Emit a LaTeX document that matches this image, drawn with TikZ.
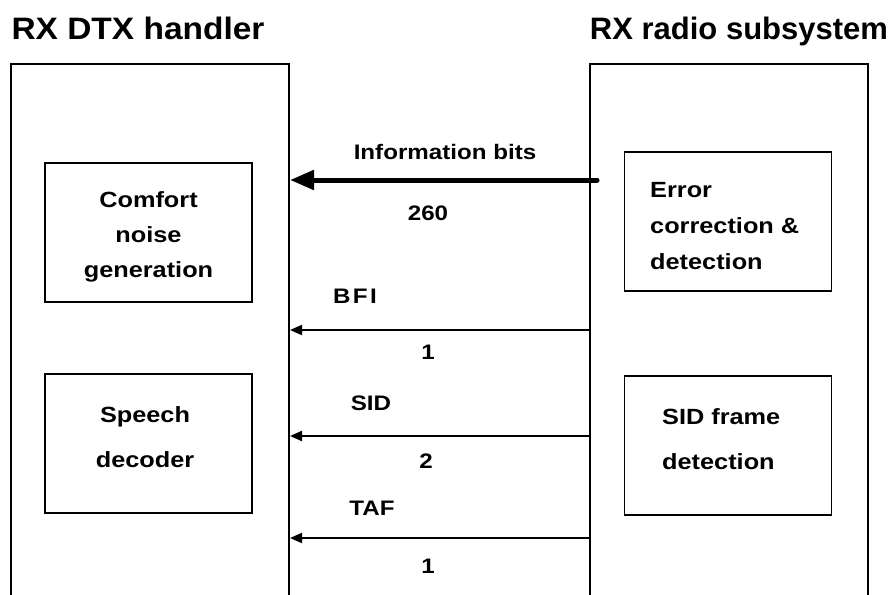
\documentclass[tikz,border=0pt]{standalone}
\usepackage{fontspec}
\setmainfont{Liberation Sans}
\newfontfamily\titlefont{Liberation Sans}[FakeStretch=1.0]
\newfontfamily\lblfont{Liberation Sans}[FakeStretch=1.15]
\usetikzlibrary{arrows.meta}
\begin{document}
\begin{tikzpicture}[x=1pt,y=-1pt,
  title/.style={font=\titlefont\bfseries\fontsize{31}{36}\selectfont, inner sep=0pt, anchor=base},
  boxtext/.style={font=\lblfont\bfseries\fontsize{22}{35}\selectfont, inner sep=0pt},
  sig/.style={font=\lblfont\bfseries\fontsize{21}{25}\selectfont, inner sep=0pt},
  bigbox/.style={draw, line width=2pt, minimum width=278pt, minimum height=600pt, inner sep=0pt},
  funcbox/.style={draw, line width=1.8pt, minimum width=207pt, minimum height=139pt, inner sep=0pt},
  thickarrow/.style={line width=5pt, line cap=round, -{Triangle[length=24pt,width=19pt]}},
  thinarrow/.style={line width=2pt, -{Triangle[length=12pt,width=10pt]}}
]
\clip (0,0) rectangle (893,594);
\fill[white] (0,0) rectangle (893,594);

% titles
\node[title] (tl) at (138,40) {\addfontfeature{FakeStretch=1.08}RX DTX handler};
\node[title] (tr) at (739,40) {RX radio subsystem};

% big boxes (open at bottom)
\node[bigbox, anchor=north west] (dtx) at (10,63) {};
\node[bigbox, anchor=north west] (radio) at (589,63) {};

% inner boxes
\node[funcbox] (cng) at (148.5,232.5) {};
\node[funcbox] (spd) at (148.5,443.5) {};
\node[funcbox] (ecd) at (728,221.5) {};
\node[funcbox] (sfd) at (728,445.5) {};

\node[boxtext, align=center] (cngt) at (148.5,237) {Comfort\\noise\\generation};
\node[boxtext, align=center, font=\lblfont\bfseries\fontsize{22}{45}\selectfont] (spdt) at (145,437.5) {Speech\\decoder};
\node[boxtext, align=left, anchor=west, font=\lblfont\bfseries\fontsize{22}{36}\selectfont] (ecdt) at (650,226) {Error\\correction \&\\detection};
\node[boxtext, align=left, anchor=west, font=\lblfont\bfseries\fontsize{22}{45}\selectfont] (sfdt) at (662,439.5) {SID frame\\detection};

% connectors
\coordinate (infs) at ([xshift=8pt]radio.west |- 0,180);
\draw[thickarrow] (infs) -- (dtx.east |- infs);
\draw[thinarrow] (radio.west |- 0,330) -- (dtx.east |- 0,330);
\draw[thinarrow] (radio.west |- 0,436) -- (dtx.east |- 0,436);
\draw[thinarrow] (radio.west |- 0,538) -- (dtx.east |- 0,538);

% labels
\node[sig] (l1) at (445,152) {Information bits};
\node[sig] (n1) at (428,213) {260};
\node[sig] (l2) at (355,296) {\addfontfeature{LetterSpace=12}BFI};
\node[sig] (n2) at (428,352) {1};
\node[sig] (l3) at (371,403) {SID};
\node[sig] (n3) at (426,461) {2};
\node[sig] (l4) at (372,508) {TAF};
\node[sig] (n4) at (428,566) {1};
\end{tikzpicture}
\end{document}
